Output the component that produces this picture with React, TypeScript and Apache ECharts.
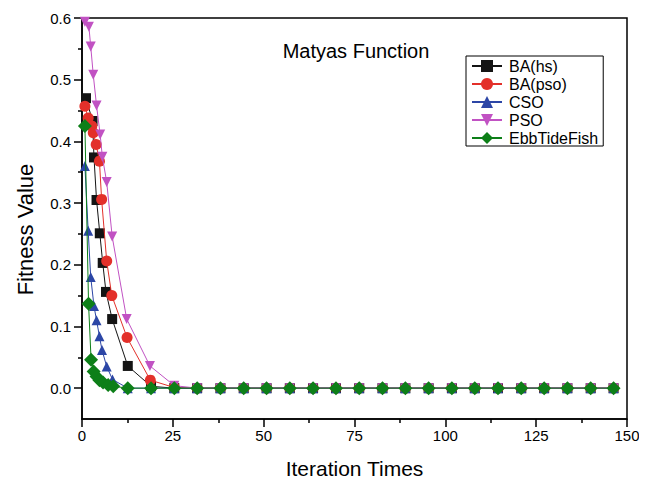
import React, { useEffect, useRef } from "react";
import * as echarts from "echarts";

const seriesNames = ["BA(hs)", "BA(pso)", "CSO", "PSO", "EbbTideFish"];

const xBAhs = [1.1, 2.9, 3.3, 4.0, 4.9, 5.7, 6.6, 8.3, 12.6, 19.0, 25.4, 31.7, 38.1, 44.5, 50.8, 57.2, 63.6, 69.9, 76.3, 82.7, 89.0, 95.4, 101.8, 108.1, 114.5, 120.9, 127.2, 133.6, 140.0, 146.3];
const yBAhs = [0.470, 0.433, 0.374, 0.305, 0.251, 0.203, 0.156, 0.112, 0.036, 0.003, 0, 0, 0, 0, 0, 0, 0, 0, 0, 0, 0, 0, 0, 0, 0, 0, 0, 0, 0, 0];

const xBApso = [0.8, 1.7, 2.7, 3.1, 3.9, 4.8, 5.4, 6.8, 8.2, 12.4, 18.8, 25.4, 31.7, 38.1, 44.5, 50.8, 57.2, 63.6, 69.9, 76.3, 82.7, 89.0, 95.4, 101.8, 108.1, 114.5, 120.9, 127.2, 133.6, 140.0, 146.3];
const yBApso = [0.457, 0.438, 0.425, 0.414, 0.395, 0.368, 0.306, 0.206, 0.150, 0.082, 0.013, 0.001, 0, 0, 0, 0, 0, 0, 0, 0, 0, 0, 0, 0, 0, 0, 0, 0, 0, 0, 0];

const xCSO = [0.8, 1.7, 2.4, 3.3, 4.0, 4.8, 5.5, 6.8, 8.4, 12.6, 19.0, 25.4, 31.7, 38.1, 44.5, 50.8, 57.2, 63.6, 69.9, 76.3, 82.7, 89.0, 95.4, 101.8, 108.1, 114.5, 120.9, 127.2, 133.6, 140.0, 146.3];
const yCSO = [0.360, 0.255, 0.180, 0.133, 0.110, 0.084, 0.062, 0.035, 0.014, 0, 0, 0, 0, 0, 0, 0, 0, 0, 0, 0, 0, 0, 0, 0, 0, 0, 0, 0, 0, 0, 0];

const xPSO = [0.8, 1.9, 2.4, 3.1, 4.0, 5.0, 5.6, 6.8, 8.3, 12.3, 18.7, 25.4, 31.7, 38.1, 44.5, 50.8, 57.2, 63.6, 69.9, 76.3, 82.7, 89.0, 95.4, 101.8, 108.1, 114.5, 120.9, 127.2, 133.6, 140.0, 146.3];
const yPSO = [0.594, 0.586, 0.554, 0.508, 0.458, 0.411, 0.375, 0.334, 0.246, 0.112, 0.036, 0.004, 0, 0, 0, 0, 0, 0, 0, 0, 0, 0, 0, 0, 0, 0, 0, 0, 0, 0, 0];

const xEbb = [0.8, 1.8, 2.5, 3.2, 4.0, 4.8, 5.8, 7.2, 8.6, 12.6, 19.0, 25.4, 31.7, 38.1, 44.5, 50.8, 57.2, 63.6, 69.9, 76.3, 82.7, 89.0, 95.4, 101.8, 108.1, 114.5, 120.9, 127.2, 133.6, 140.0, 146.3];
const yEbb = [0.425, 0.137, 0.046, 0.027, 0.019, 0.013, 0.009, 0.005, 0.003, 0, 0, 0, 0, 0, 0, 0, 0, 0, 0, 0, 0, 0, 0, 0, 0, 0, 0, 0, 0, 0, 0];

const yMajorTicks = [0, 0.1, 0.2, 0.3, 0.4, 0.5, 0.6];
const yMinorTicks = [0.05, 0.15, 0.25, 0.35, 0.45, 0.55];

const colors = ["#141414", "#e3302a", "#2c46a6", "#c152c3", "#0d7f18"];
const symbols = ["rect", "circle", "triangle", "triangle", "diamond"];
const symbolSizes = [10, 11, 10, 10, 14];
const rotations = [0, 0, 0, 180, 0];

const zip = (xs: number[], ys: number[]) => xs.map((x, i) => [x, ys[i]]);

export default function App() {
  const ref = useRef<HTMLDivElement>(null);
  useEffect(() => {
    if (!ref.current) return;
    const chart = echarts.init(ref.current, undefined, { renderer: "svg" });
    const font = "Liberation Sans, Arial, sans-serif";
    const datas = [
      zip(xBAhs, yBAhs),
      zip(xBApso, yBApso),
      zip(xCSO, yCSO),
      zip(xPSO, yPSO),
      zip(xEbb, yEbb),
    ];
    chart.setOption({
      animation: false,
      textStyle: { fontFamily: font },
      title: {
        text: "Matyas Function",
        left: 351,
        top: 36,
        textAlign: "center",
        textStyle: { fontFamily: font, fontSize: 20, fontWeight: "normal", color: "#000" },
      },
      legend: {
        orient: "vertical",
        left: 466,
        top: 56,
        padding: [2, 5, 0, 5],
        borderColor: "#000",
        borderWidth: 1,
        itemWidth: 30,
        itemHeight: 15,
        itemGap: 2,
        data: seriesNames,
        textStyle: { fontFamily: font, fontSize: 16, color: "#000", padding: [0, 0, 0, 2] },
      },
      grid: {
        left: 82,
        right: 20,
        top: 18,
        bottom: 63,
        show: true,
        borderColor: "#000",
        borderWidth: 1.5,
        backgroundColor: "transparent",
      },
      xAxis: {
        type: "value",
        min: 0,
        max: 150,
        interval: 25,
        name: "Iteration Times",
        nameLocation: "middle",
        nameGap: 39,
        nameTextStyle: { fontFamily: font, fontSize: 21, color: "#000" },
        axisLine: { show: true, onZero: false, lineStyle: { color: "#000", width: 1.5 } },
        axisTick: { show: true, length: 8, lineStyle: { color: "#000", width: 1.5 } },
        minorTick: { show: true, splitNumber: 2, length: 4, lineStyle: { color: "#000", width: 1.5 } },
        axisLabel: { fontFamily: font, fontSize: 15, color: "#000", margin: 9 },
        splitLine: { show: false },
      },
      yAxis: [
        {
          type: "value",
          min: -0.05,
          max: 0.6,
          name: "Fitness Value",
          nameLocation: "middle",
          nameGap: 46,
          nameRotate: 90,
          nameTextStyle: { fontFamily: font, fontSize: 22, color: "#000", padding: [0, 22, 0, 0] },
          axisLine: { show: true, onZero: false, lineStyle: { color: "#000", width: 1.5 } },
          axisTick: { show: true, length: 8, customValues: yMajorTicks, lineStyle: { color: "#000", width: 1.5 } },
          axisLabel: {
            fontFamily: font,
            fontSize: 15,
            color: "#000",
            margin: 11,
            customValues: yMajorTicks,
            formatter: (v: number) => v.toFixed(1),
          },
          splitLine: { show: false },
        },
        {
          type: "value",
          min: -0.05,
          max: 0.6,
          position: "left",
          axisLine: { show: false },
          axisTick: { show: true, length: 4, customValues: yMinorTicks, lineStyle: { color: "#000", width: 1.5 } },
          axisLabel: { show: false, customValues: yMinorTicks },
          splitLine: { show: false },
        },
      ],
      series: seriesNames.map((name, i) => ({
        name,
        type: "line",
        data: datas[i],
        yAxisIndex: 0,
        symbol: symbols[i],
        symbolSize: symbolSizes[i],
        symbolRotate: rotations[i],
        showAllSymbol: true,
        clip: false,
        color: colors[i],
        lineStyle: { color: colors[i], width: 1 },
        itemStyle: { color: colors[i] },
        z: 2 + i,
      })),
    });
    return () => chart.dispose();
  }, []);
  return <div ref={ref} style={{ width: 647, height: 484, margin: -8 }} />;
}
